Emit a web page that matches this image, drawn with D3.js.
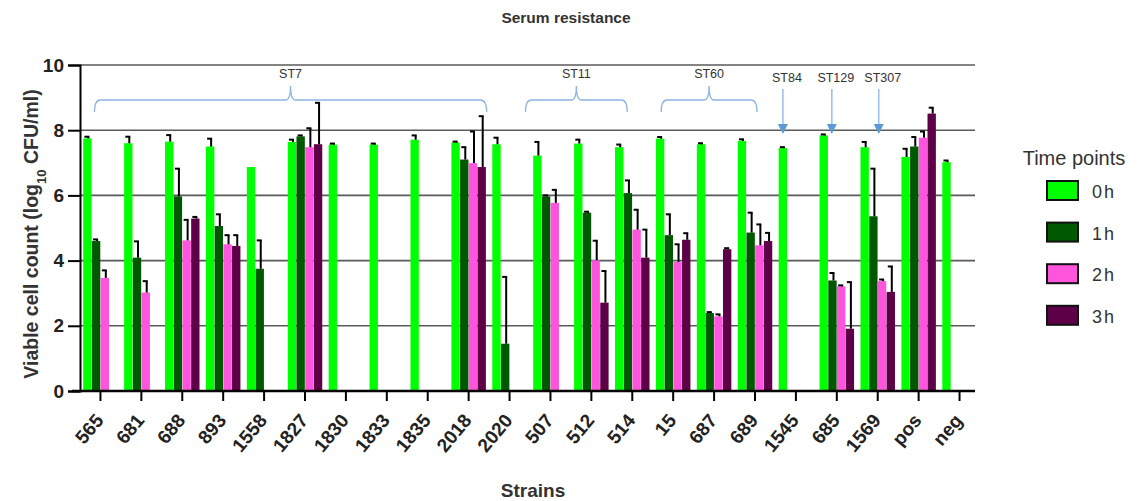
<!DOCTYPE html>
<html>
<head>
<meta charset="utf-8">
<script src="https://cdn.jsdelivr.net/npm/d3@7"></script>
<style>
  body { margin: 0; background: #fff; }
  svg text { font-family: "Liberation Sans", Arial, sans-serif; }
</style>
</head>
<body>
<div class="chart"></div>
<script>
const strains = ['565', '681', '688', '893', '1558', '1827', '1830', '1833', '1835', '2018', '2020',
                 '507', '512', '514', '15', '687', '689', '1545', '685', '1569', 'pos', 'neg'];

const timePoints = ['0h', '1h', '2h', '3h'];

// mean log10 CFU/ml per time point (null = no growth / not plotted)
const h0 = [7.75, 7.6, 7.65, 7.5, 6.87, 7.64, 7.56, 7.56, 7.71, 7.62, 7.57,
            7.22, 7.59, 7.48, 7.74, 7.57, 7.67, 7.45, 7.84, 7.48, 7.18, 7.02];
const h1 = [4.6, 4.09, 5.97, 5.06, 3.75, 7.81, null, null, null, 7.1, 1.45,
            5.97, 5.47, 6.07, 4.78, 2.39, 4.86, null, 3.39, 5.36, 7.5, null];
const h2 = [3.47, 3.02, 4.62, 4.5, null, 7.48, null, null, null, 6.99, null,
            5.77, 4.01, 4.95, 3.96, 2.29, 4.47, null, 3.21, 3.37, 7.77, null];
const h3 = [null, null, 5.29, 4.45, null, 7.57, null, null, null, 6.87, null,
            null, 2.71, 4.09, 4.64, 4.35, 4.6, null, 1.91, 3.04, 8.51, null];

// error bar (upper) sizes
const h0err = [0.05, 0.2, 0.2, 0.24, 0, 0.07, 0.03, 0.03, 0.13, 0.03, 0.2,
               0.42, 0.12, 0.08, 0.05, 0.03, 0.05, 0.03, 0.03, 0.16, 0.25, 0.05];
const h1err = [0.05, 0.5, 0.85, 0.36, 0.87, 0.03, 0, 0, 0, 0.38, 2.05,
               0.03, 0.03, 0.39, 0.64, 0.03, 0.61, 0, 0.23, 1.46, 0.29, 0];
const h2err = [0.23, 0.35, 0.63, 0.28, 0, 0.58, 0, 0, 0, 0.97, 0,
               0.4, 0.6, 0.61, 0.54, 0.06, 0.64, 0, 0.03, 0.05, 0.19, 0];
const h3err = [0, 0, 0.05, 0.33, 0, 1.27, 0, 0, 0, 1.56, 0,
               0, 0.97, 0.86, 0.2, 0.03, 0.25, 0, 1.43, 0.78, 0.18, 0];

const yTicks = [0, 2, 4, 6, 8, 10];

// sequence type groups: braces span several strains, arrows point at one
const braceGroups = [
  { label: 'ST7', from: '565', to: '2018' },
  { label: 'ST11', from: '507', to: '514' },
  { label: 'ST60', from: '15', to: '689' }
];
const arrowGroups = [
  { label: 'ST84', strain: '1545' },
  { label: 'ST129', strain: '685' },
  { label: 'ST307', strain: '1569' }
];

const colors = ['#00ff00', '#005800', '#ff55dd', '#5e0048'];

window.addEventListener("load", () => {
  drawChart();
});

function drawChart() {
  const width = 1143, height = 501;
  const plot = { left: 80, right: 980, top: 65, bottom: 391 };

  const svg = d3.select(".chart")
    .append("svg")
    .attr("width", width)
    .attr("height", height);

  const x0 = d3.scaleBand()
    .domain(strains)
    .range([plot.left, plot.right])
    .paddingInner(0.14)
    .paddingOuter(0.07);

  const x1 = d3.scaleBand()
    .domain(timePoints)
    .range([0, x0.bandwidth()])
    .padding(0.04);

  const y = d3.scaleLinear().domain([0, 10]).range([plot.bottom, plot.top]);

  const series = [h0, h1, h2, h3];
  const errs = [h0err, h1err, h2err, h3err];

  const data = [];
  strains.forEach((s, i) => {
    timePoints.forEach((t, k) => {
      if (series[k][i] != null) {
        data.push({ strain: s, time: t, k: k, value: series[k][i], err: errs[k][i] });
      }
    });
  });

  // grid lines
  svg.append("g")
    .selectAll("line")
    .data(yTicks.filter(d => d > 0))
    .enter()
    .append("line")
    .attr("x1", plot.left)
    .attr("x2", 975)
    .attr("y1", d => y(d))
    .attr("y2", d => y(d))
    .attr("stroke", "#5a5a5a")
    .attr("stroke-width", 1.6);

  // bars
  svg.append("g")
    .selectAll("rect")
    .data(data)
    .enter()
    .append("rect")
    .attr("x", d => x0(d.strain) + x1(d.time))
    .attr("width", x1.bandwidth())
    .attr("y", d => y(d.value))
    .attr("height", d => y(0) - y(d.value))
    .attr("fill", d => colors[d.k]);

  // error bars (upper only, half cap)
  const eb = svg.append("g")
    .selectAll("g")
    .data(data.filter(d => d.err > 0))
    .enter()
    .append("g")
    .attr("stroke", "#000")
    .attr("stroke-width", 2);

  eb.append("line")
    .attr("x1", d => x0(d.strain) + x1(d.time) + x1.bandwidth() / 2 + 1)
    .attr("x2", d => x0(d.strain) + x1(d.time) + x1.bandwidth() / 2 + 1)
    .attr("y1", d => y(d.value))
    .attr("y2", d => y(d.value + d.err));

  eb.append("line")
    .attr("x1", d => x0(d.strain) + x1(d.time) + x1.bandwidth() / 2 - 3)
    .attr("x2", d => x0(d.strain) + x1(d.time) + x1.bandwidth() / 2 + 2)
    .attr("y1", d => y(d.value + d.err))
    .attr("y2", d => y(d.value + d.err));

  // y axis
  const yAxis = d3.axisLeft(y).tickValues(yTicks).tickSize(12).tickPadding(4);
  const gy = svg.append("g")
    .attr("transform", "translate(" + plot.left + ",0)")
    .call(yAxis);
  gy.select(".domain").attr("stroke", "#000").attr("stroke-width", 2);
  gy.selectAll(".tick line").attr("stroke", "#000").attr("stroke-width", 2);
  gy.selectAll("text")
    .style("font-size", "19px")
    .style("font-weight", "bold")
    .attr("fill", "#222");

  // x axis (labels drawn separately, rotated)
  const xAxis = d3.axisBottom(x0).tickSize(10).tickSizeOuter(0).tickFormat("");
  const gx = svg.append("g")
    .attr("transform", "translate(0," + plot.bottom + ")")
    .call(xAxis);
  gx.select(".domain")
    .attr("d", "M" + (plot.left - 8) + ",0H975")
    .attr("stroke", "#000")
    .attr("stroke-width", 2.5);
  gx.selectAll(".tick line").attr("stroke", "#000").attr("stroke-width", 2);

  svg.append("g")
    .selectAll("text")
    .data(strains)
    .enter()
    .append("text")
    .attr("transform", d => "translate(" + (x0(d) + x0.bandwidth() / 2 + 4) + ",421) rotate(-50)")
    .attr("text-anchor", "end")
    .style("font-size", "19px")
    .style("font-weight", "bold")
    .attr("fill", "#222")
    .text(d => d);

  // axis titles
  svg.append("text")
    .attr("transform", "translate(38,234) rotate(-90)")
    .attr("text-anchor", "middle")
    .style("font-size", "19.5px")
    .style("font-weight", "bold")
    .attr("fill", "#333")
    .html('Viable cell count (log<tspan baseline-shift="sub" font-size="13px">10</tspan> CFU/ml)');

  svg.append("text")
    .attr("x", 533)
    .attr("y", 497)
    .attr("text-anchor", "middle")
    .style("font-size", "19px")
    .style("font-weight", "bold")
    .attr("fill", "#333")
    .text("Strains");

  svg.append("text")
    .attr("x", 566)
    .attr("y", 23)
    .attr("text-anchor", "middle")
    .style("font-size", "15.5px")
    .style("font-weight", "bold")
    .attr("fill", "#333")
    .text("Serum resistance");

  // braces
  const braceNudge = { ST7: [-6, 18], ST11: [-25, -5], ST60: [-12, 2] };
  const brace = svg.append("g")
    .selectAll("g")
    .data(braceGroups)
    .enter()
    .append("g");

  brace.append("path")
    .attr("fill", "none")
    .attr("stroke", "#8db4e2")
    .attr("stroke-width", 1.3)
    .attr("d", d => {
      const a = x0(d.from) + x0.bandwidth() / 2 + braceNudge[d.label][0];
      const b = x0(d.to) + x0.bandwidth() / 2 + braceNudge[d.label][1];
      const m = (a + b) / 2;
      return "M" + a + ",112 Q" + a + ",100 " + (a + 6) + ",100 L" + (m - 5) + ",100 Q" + m + ",100 " + m + ",86" +
             " Q" + m + ",100 " + (m + 5) + ",100 L" + (b - 6) + ",100 Q" + b + ",100 " + b + ",112";
    });

  brace.append("text")
    .attr("x", d => (x0(d.from) + x0(d.to) + x0.bandwidth() + braceNudge[d.label][0] + braceNudge[d.label][1]) / 2)
    .attr("y", 78)
    .attr("text-anchor", "middle")
    .style("font-size", "12.5px")
    .attr("fill", "#333")
    .text(d => d.label);

  // arrows
  const arrowNudge = { ST84: -13, ST129: -5, ST307: 1 };
  const arrow = svg.append("g")
    .selectAll("g")
    .data(arrowGroups)
    .enter()
    .append("g")
    .attr("transform", d => "translate(" + (x0(d.strain) + x0.bandwidth() / 2 + arrowNudge[d.label]) + ",0)");

  arrow.append("line")
    .attr("y1", 89)
    .attr("y2", 126)
    .attr("stroke", "#9dc3e6")
    .attr("stroke-width", 1.6);

  arrow.append("path")
    .attr("d", "M-5,124L5,124L0,134Z")
    .attr("fill", "#5b9bd5");

  arrow.append("text")
    .attr("x", 4)
    .attr("y", 82)
    .attr("text-anchor", "middle")
    .style("font-size", "12.5px")
    .attr("fill", "#333")
    .text(d => d.label);

  // legend
  const legend = svg.append("g");
  legend.append("text")
    .attr("x", 1074)
    .attr("y", 165)
    .attr("text-anchor", "middle")
    .style("font-size", "20px")
    .attr("fill", "#333")
    .text("Time points");

  const item = legend.selectAll("g")
    .data(timePoints)
    .enter()
    .append("g")
    .attr("transform", (d, i) => "translate(1047," + (181 + i * 41.6) + ")");

  item.append("rect")
    .attr("width", 31)
    .attr("height", 19)
    .attr("fill", (d, i) => colors[i])
    .attr("stroke", "#111")
    .attr("stroke-width", 2);

  item.append("text")
    .attr("x", 45)
    .attr("y", 17)
    .style("font-size", "18px")
    .style("letter-spacing", "2px")
    .attr("fill", "#333")
    .text(d => d);
}
</script>
</body>
</html>
